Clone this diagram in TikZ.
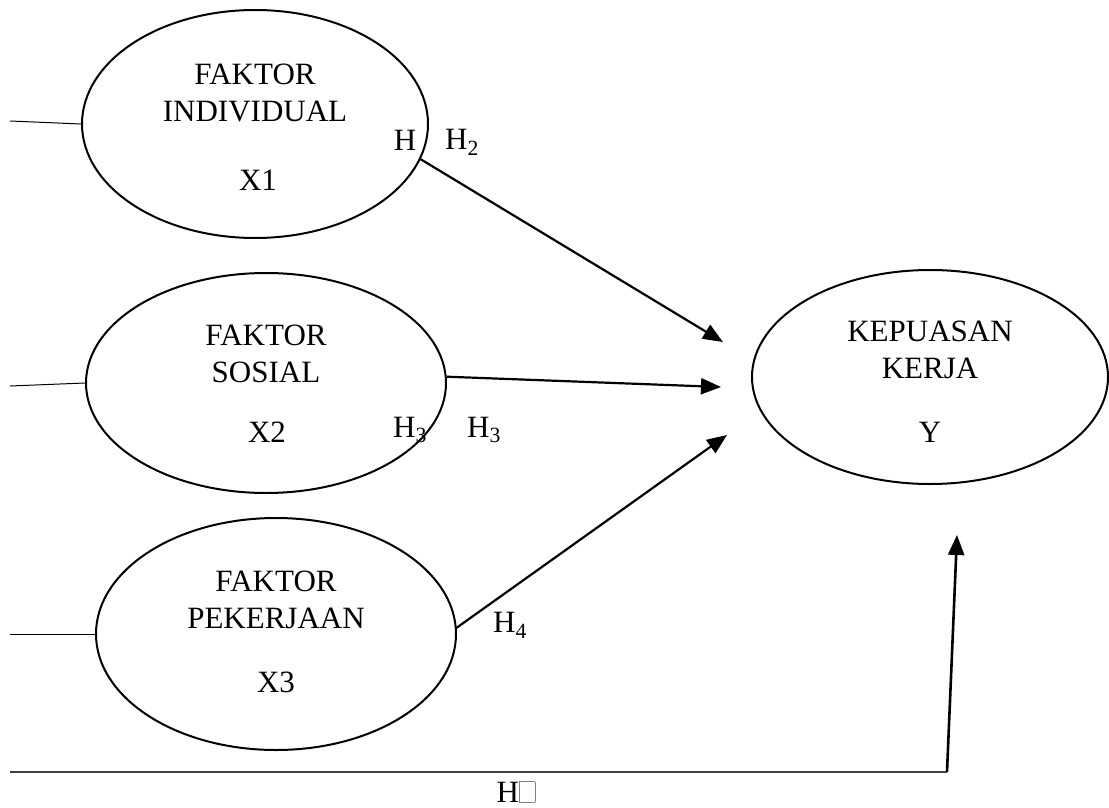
\documentclass[tikz,border=0pt]{standalone}
\usepackage{fontspec}
\setmainfont{Liberation Serif}
\usetikzlibrary{arrows.meta,shapes.geometric}
\begin{document}
\begin{tikzpicture}[x=1pt, y=-1pt, font=\fontsize{31}{37}\selectfont,
    var/.style={draw, ellipse, line width=2pt, inner sep=0pt},
    path/.style={line width=2.2pt, -{Triangle[length=20pt,width=16pt]}},
    feed/.style={line width=1pt},
    hyp/.style={inner sep=0pt}]
    \useasboundingbox (0,0) rectangle (1109,808);
    % ellipses
    \node[var, minimum width=346pt, minimum height=228pt] (x1) at (255,124) {};
    \node[var, minimum width=360pt, minimum height=220pt] (x2) at (266,383) {};
    \node[var, minimum width=360pt, minimum height=232pt] (x3) at (276,634) {};
    \node[var, minimum width=356pt, minimum height=214pt] (y)  at (930,377) {};

    % texts inside
    \node[align=center] (x1name) at (255,93)  {FAKTOR\\INDIVIDUAL};
    \node (x1var) at (258,180) {X1};
    \node[align=center] (x2name) at (266,354) {FAKTOR\\SOSIAL};
    \node (x2var) at (267,432) {X2};
    \node[align=center] (x3name) at (276,600) {FAKTOR\\PEKERJAAN};
    \node (x3var) at (276,682) {X3};
    \node[align=center] (yname) at (930,350) {KEPUASAN\\KERJA};
    \node (yvar) at (930,432) {Y};

    % lines coming in from the left
    \foreach \n/\y in {1/121, 2/386, 3/634} {
      \coordinate (in\n) at (10,\y);
      \draw[feed] (in\n) -- (x\n.west);
    }

    % arrows into Y
    \coordinate (t1) at (723,342);
    \coordinate (t2) at (721,387);
    \coordinate (t3) at (727,435);
    \draw[path] (x1.-12.5) -- (t1);
    \draw[path] (x2.2) -- (t2);
    \draw[path] (x3.2) -- (t3);

    % bottom path
    \coordinate (b0) at (10,772);
    \coordinate (b1) at (947,772);
    \coordinate (t4) at (957,535);
    \draw[line width=1.4pt, black!75] (b0) -- (b1);
    \draw[path, line width=2.6pt] (b1) -- (t4);

    % hypothesis labels
    \node[hyp] (h1a) at (405,140) {H};
    \node[hyp] (h1b) at (462,142) {H\textsubscript{2}};
    \node[hyp] (h2a) at (410,430) {H\textsubscript{3}};
    \node[hyp] (h2b) at (484,430) {H\textsubscript{3}};
    \node[hyp] (h3)  at (510,625) {H\textsubscript{4}};
    \node[hyp] (h4)  at (516,792) {H{\setlength{\fboxsep}{0pt}\color{gray}\fbox{\rule{0pt}{0.66em}\hspace{0.5em}}}};
\end{tikzpicture}
\end{document}
